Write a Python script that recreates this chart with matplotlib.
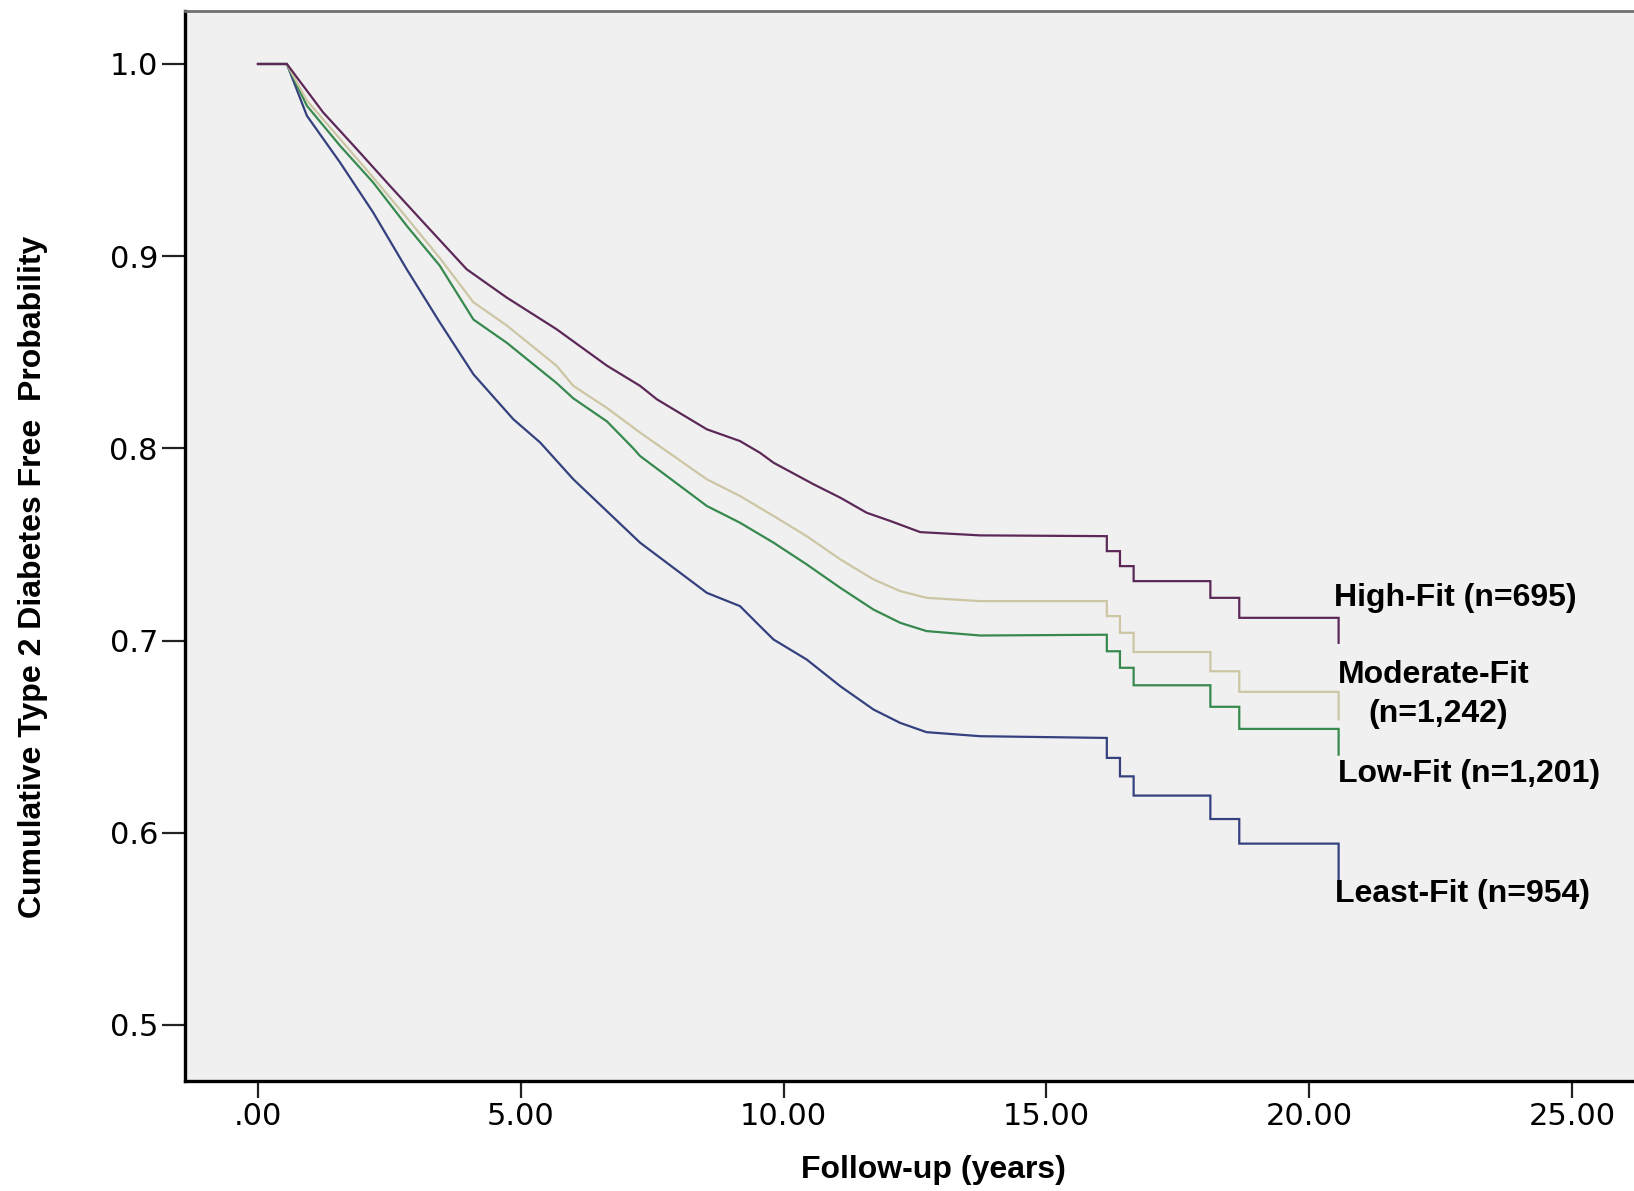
import matplotlib
matplotlib.use("Agg")
import matplotlib.pyplot as plt

# ---------------- data ----------------
high_t = [0, 0.55, 1.24, 1.88, 2.51, 3.15, 3.97, 4.73, 5.68, 6.64, 7.27, 7.59, 8.54, 9.17,
          9.55, 9.81, 10.57, 11.08, 11.58, 12.03, 12.60, 13.74, 16.15,
          16.15, 16.40, 16.40, 16.66, 16.66, 18.12, 18.12, 18.67, 18.67, 20.56, 20.56]
high_s = [1.0, 1.0, 0.9748, 0.9557, 0.9366, 0.9175, 0.8932, 0.8785, 0.8620, 0.8430, 0.8325, 0.8255,
          0.8099, 0.8038, 0.7977, 0.7925, 0.7813, 0.7743, 0.7665, 0.7622, 0.7564, 0.7547, 0.7543,
          0.7465, 0.7465, 0.7387, 0.7387, 0.7309, 0.7309, 0.7222, 0.7222, 0.7118, 0.7118, 0.6988]

mod_t = [0, 0.55, 0.93, 1.56, 2.19, 2.83, 3.46, 4.10, 4.73, 5.68, 6.00, 6.64, 7.27, 8.54, 9.17,
         9.81, 10.44, 11.08, 11.71, 12.22, 12.72, 13.74, 16.15,
         16.15, 16.40, 16.40, 16.66, 16.66, 18.12, 18.12, 18.67, 18.67, 20.56, 20.56]
mod_s = [1.0, 1.0, 0.981, 0.961, 0.941, 0.920, 0.899, 0.876, 0.864, 0.843, 0.8325, 0.821, 0.8082,
         0.7839, 0.7752, 0.7648, 0.7543, 0.7422, 0.7318, 0.7257, 0.7222, 0.7205, 0.7205,
         0.7127, 0.7127, 0.7040, 0.7040, 0.6940, 0.6940, 0.6840, 0.6840, 0.6733, 0.6733, 0.6590]

low_t = [0, 0.55, 0.93, 1.56, 2.19, 2.83, 3.46, 4.10, 4.73, 5.68, 6.00, 6.64, 7.14, 7.27, 8.54,
         9.17, 9.81, 10.44, 11.08, 11.71, 12.22, 12.72, 13.74, 16.15,
         16.15, 16.40, 16.40, 16.66, 16.66, 18.12, 18.12, 18.67, 18.67, 20.56, 20.56]
low_s = [1.0, 1.0, 0.9783, 0.9575, 0.9384, 0.9158, 0.8950, 0.8670, 0.8550, 0.8340, 0.8260, 0.8140,
         0.8000, 0.7960, 0.7700, 0.7613, 0.7509, 0.7396, 0.7274, 0.7161, 0.7092, 0.7049, 0.7026,
         0.7030, 0.6944, 0.6944, 0.6858, 0.6858, 0.6767, 0.6767, 0.6655, 0.6655, 0.6540, 0.6540,
         0.6406]

least_t = [0, 0.55, 0.93, 1.56, 2.19, 2.83, 3.46, 4.10, 4.86, 5.37, 6.00, 7.27, 8.54, 9.17, 9.55,
           9.81, 10.44, 11.08, 11.71, 12.22, 12.72, 13.74, 16.15,
           16.15, 16.40, 16.40, 16.66, 16.66, 18.12, 18.12, 18.67, 18.67, 20.56, 20.56]
least_s = [1.0, 1.0, 0.9731, 0.9488, 0.9228, 0.8932, 0.8655, 0.8385, 0.8151, 0.8030, 0.7839, 0.7509,
           0.7248, 0.7179, 0.7075, 0.7005, 0.6901, 0.6762, 0.6641, 0.6571, 0.6523, 0.6502, 0.6493,
           0.6389, 0.6389, 0.6293, 0.6293, 0.6193, 0.6193, 0.6071, 0.6071, 0.5943, 0.5943, 0.5755]

x_ticks = [0, 5, 10, 15, 20, 25]
x_tick_labels = [".00", "5.00", "10.00", "15.00", "20.00", "25.00"]
y_ticks = [0.5, 0.6, 0.7, 0.8, 0.9, 1.0]
y_tick_labels = ["0.5", "0.6", "0.7", "0.8", "0.9", "1.0"]

# ---------------- figure ----------------
fig = plt.figure(figsize=(16.34, 11.91), dpi=100)
ax = fig.add_axes([0.1132, 0.0924, 0.8868, 0.8984])
ax.set_facecolor("#f0f0f0")

lw = 1.6
ax.plot(least_t, least_s, color="#34417e", lw=lw, solid_joinstyle="miter")
ax.plot(low_t, low_s, color="#37894e", lw=lw, solid_joinstyle="miter")
ax.plot(mod_t, mod_s, color="#cdc6a4", lw=lw, solid_joinstyle="miter")
ax.plot(high_t, high_s, color="#5c2858", lw=lw, solid_joinstyle="miter")

ax.set_xlim(-1.389, 26.18)
ax.set_ylim(0.4708, 1.0276)

ax.set_xticks(x_ticks)
ax.set_xticklabels(x_tick_labels, fontsize=22, family="DejaVu Sans")
ax.set_yticks(y_ticks)
ax.set_yticklabels(y_tick_labels, fontsize=22, family="DejaVu Sans")
ax.tick_params(axis="x", length=12, width=1.6, pad=3, color="#222222")
ax.tick_params(axis="y", length=16.5, width=1.6, pad=3, color="#222222")

for s in ("left", "bottom"):
    ax.spines[s].set_linewidth(2.4)
    ax.spines[s].set_color("black")
ax.spines["top"].set_linewidth(2.0)
ax.spines["top"].set_color("#6f6f6f")
ax.spines["right"].set_visible(False)

lab = dict(fontsize=23, fontweight="bold", family="Liberation Sans", color="black")
ax.text(20.48, 0.7219, "High-Fit (n=695)", ha="left", va="center", **lab)
ax.text(22.36, 0.6823, "Moderate-Fit", ha="center", va="center", **lab)
ax.text(22.45, 0.6615, "(n=1,242)", ha="center", va="center", **lab)
ax.text(20.55, 0.6307, "Low-Fit (n=1,201)", ha="left", va="center", **lab)
ax.text(20.49, 0.5682, "Least-Fit (n=954)", ha="left", va="center", **lab)

fig.text(0.0202, 0.5155, "Cumulative Type 2 Diabetes Free  Probability", rotation=90,
         ha="center", va="center", **lab)
fig.text(0.571, 0.0176, "Follow-up (years)", ha="center", va="center", **lab)

fig.savefig("out.png", dpi=100)
